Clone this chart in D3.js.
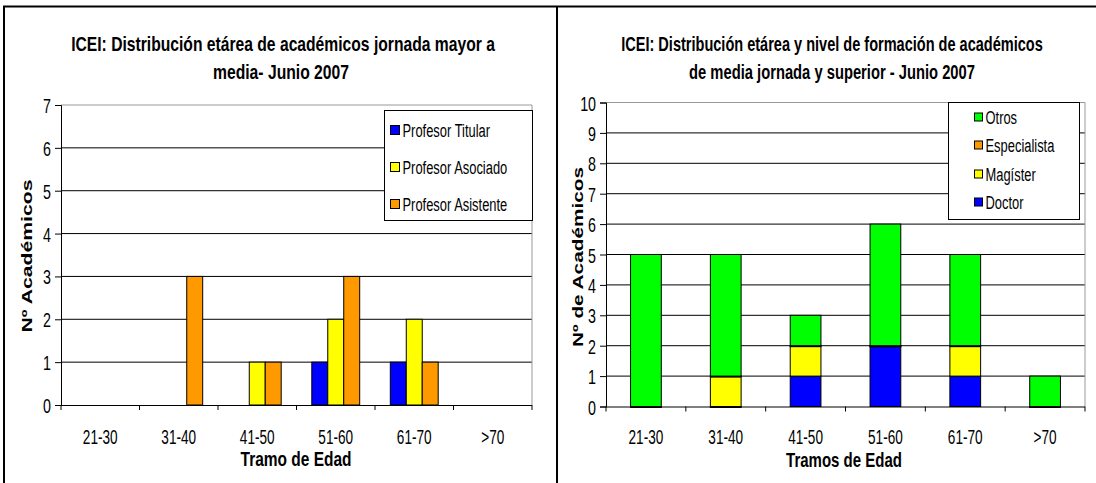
<!DOCTYPE html>
<meta charset="utf-8">
<style>
    body { margin: 0; background: #fff; }
    text { fill: #000; font-family: "Liberation Sans", Arial, sans-serif; }
    .title { font-weight: bold; font-size: 20px; }
    .axtitle { font-weight: bold; font-size: 15px; }
    .xtitle { font-weight: bold; font-size: 20px; }
    .legend text { font-size: 19px; }
    .grid line { stroke: #000; }
    .domain { stroke: #000; }
</style>
<body>
    <svg width="1096" height="483"></svg>
</body>
<script src="https://d3js.org/d3.v7.min.js"></script>
<script>

    // shared age brackets
    var tramos = ["21-30", "31-40", "41-50", "51-60", "61-70", ">70"];

    // left chart: by academic rank (grouped)
    var rangos = ["Profesor Titular", "Profesor Asociado", "Profesor Asistente"];
    var titular   = [0, 0, 0, 1, 1, 0];
    var asociado  = [0, 0, 1, 2, 2, 0];
    var asistente = [0, 3, 1, 3, 1, 0];
    var coloresRango = ["#0000ff", "#ffff00", "#ff9900"];
    var ticksIzq = [0, 1, 2, 3, 4, 5, 6, 7];

    // right chart: by training level (stacked, bottom to top)
    var niveles = ["Doctor", "Magíster", "Especialista", "Otros"];
    var doctor       = [0, 0, 1, 2, 1, 0];
    var magister     = [0, 1, 1, 0, 1, 0];
    var especialista = [0, 0, 0, 0, 0, 0];
    var otros        = [5, 4, 1, 4, 3, 1];
    var coloresNivel = ["#0000ff", "#ffff00", "#ff9900", "#00ff00"];
    var ticksDer = [0, 1, 2, 3, 4, 5, 6, 7, 8, 9, 10];

    var ESTRECHO = 0.68;   // the original glyphs are tall and very narrow

    var svg = d3.select("svg");

    // panel frames
    svg.append("path")
        .attr("d", "M4,483 V6.5 H1096 M557,6.5 V483")
        .attr("fill", "none")
        .attr("stroke", "#000")
        .attr("stroke-width", 2);

    function estrechar(sel) {
        sel.each(function () {
            var t = d3.select(this);
            var x = +t.attr("x") || 0;
            t.attr("x", x / ESTRECHO).attr("transform", "scale(" + ESTRECHO + ",1)");
        });
    }

    function ejes(g, x, y, ticks, x0, x1, yTop, yBot, padX) {
        // gridlines
        g.append("g").attr("class", "grid")
            .selectAll("line")
            .data(ticks.slice(1, -1))
            .enter().append("line")
            .attr("x1", x0).attr("x2", x1)
            .attr("y1", function (d) { return y(d); })
            .attr("y2", function (d) { return y(d); });

        // plot area outline (top and right in grey)
        g.append("path")
            .attr("d", "M" + x0 + "," + yTop + " H" + x1 + " V" + yBot)
            .attr("fill", "none")
            .attr("stroke", "#999");

        var yAxis = g.append("g")
            .attr("transform", "translate(" + x0 + ",0)")
            .call(d3.axisLeft(y).tickValues(ticks).tickSize(6).tickPadding(4).tickFormat(d3.format("d")))
            .attr("font-size", 21)
            .attr("font-family", "'Liberation Sans', Arial, sans-serif");
        yAxis.selectAll(".tick text").attr("dy", "0.36em");
        estrechar(yAxis.selectAll(".tick text"));

        var xAxis = g.append("g")
            .attr("transform", "translate(0," + yBot + ")")
            .call(d3.axisBottom(x).tickSize(0).tickPadding(padX))
            .attr("font-size", 20)
            .attr("font-family", "'Liberation Sans', Arial, sans-serif");
        xAxis.select(".domain").attr("d", "M" + x0 + ",0.5H" + x1);
        estrechar(xAxis.selectAll(".tick text"));

        // tick marks at category boundaries
        g.append("g").selectAll("line")
            .data(tramos.concat(["fin"]))
            .enter().append("line")
            .attr("x1", function (d, i) { return x0 + i * x.step(); })
            .attr("x2", function (d, i) { return x0 + i * x.step(); })
            .attr("y1", yBot).attr("y2", yBot + 5)
            .attr("stroke", "#000");
    }

    function leyenda(g, items, colores, bx, by, bw, bh, ys, sx, lado) {
        var lg = g.append("g").attr("class", "legend");
        lg.append("rect")
            .attr("x", bx).attr("y", by)
            .attr("width", bw).attr("height", bh)
            .attr("fill", "#fff").attr("stroke", "#000");
        var it = lg.selectAll(".it")
            .data(items)
            .enter().append("g")
            .attr("transform", function (d, i) { return "translate(" + sx + "," + ys[i] + ")"; });
        it.append("rect")
            .attr("x", 0).attr("y", -lado / 2)
            .attr("width", lado).attr("height", lado)
            .attr("fill", function (d, i) { return colores[i]; })
            .attr("stroke", "#000");
        var tx = it.append("text")
            .attr("x", lado + 3).attr("dy", "0.36em")
            .text(function (d) { return d; });
        estrechar(tx);
    }

    // centred text squeezed to a given width
    function texto(g, cls, x, y, largo, s, rot) {
        var t = g.append("text").attr("class", cls).attr("text-anchor", "middle").text(s);
        var k = largo / t.node().getComputedTextLength();
        t.attr("transform", "translate(" + x + "," + y + ")" + (rot ? " rotate(-90)" : "") + " scale(" + k + ",1)");
        return t;
    }

    // ---------- left chart ----------
    var gL = svg.append("g");
    var xL = d3.scaleBand().domain(tramos).range([61, 532]).padding(0);
    var yL = d3.scaleLinear().domain([0, 7]).range([405, 105]);
    ejes(gL, xL, yL, ticksIzq, 61, 532, 105, 405, 25);

    var serieL = [titular, asociado, asistente];
    var grupo = xL.bandwidth() * 0.61;
    var xSub = d3.scaleBand().domain(d3.range(rangos.length)).range([0, grupo]);

    rangos.forEach(function (r, s) {
        gL.append("g").selectAll("rect")
            .data(serieL[s].map(function (v, i) { return { cat: tramos[i], v: v }; })
                .filter(function (d) { return d.v > 0; }))
            .enter().append("rect")
            .attr("x", function (d) { return xL(d.cat) + (xL.bandwidth() - grupo) / 2 + xSub(s); })
            .attr("width", xSub.bandwidth())
            .attr("y", function (d) { return yL(d.v); })
            .attr("height", function (d) { return yL(0) - yL(d.v); })
            .attr("fill", coloresRango[s])
            .attr("stroke", "#000")
            .attr("stroke-width", 1);
    });

    leyenda(gL, rangos, coloresRango, 384.5, 110.5, 148, 110, [130, 167, 204], 390.5, 9);

    texto(gL, "title", 283, 51, 424, "ICEI: Distribución etárea de académicos jornada mayor a");
    texto(gL, "title", 281, 79, 136, "media- Junio 2007");
    texto(gL, "xtitle", 296, 466, 111, "Tramo de Edad");
    texto(gL, "axtitle", 32, 256, 153, "Nº Académicos", true);

    // ---------- right chart ----------
    var gR = svg.append("g");
    var xR = d3.scaleBand().domain(tramos).range([606, 1085]).padding(0);
    var yR = d3.scaleLinear().domain([0, 10]).range([406.5, 102.5]);
    ejes(gR, xR, yR, ticksDer, 606, 1085, 102.5, 406.5, 23);

    var serieR = [doctor, magister, especialista, otros];
    var tabla = tramos.map(function (t, i) {
        var fila = { tramo: t };
        niveles.forEach(function (n, s) { fila[n] = serieR[s][i]; });
        return fila;
    });
    var apilado = d3.stack().keys(niveles)(tabla);
    var anchoBarra = xR.bandwidth() * 0.385;

    gR.selectAll(".capa")
        .data(apilado)
        .enter().append("g")
        .attr("fill", function (d, i) { return coloresNivel[i]; })
        .selectAll("rect")
        .data(function (d) { return d; })
        .enter().append("rect")
        .attr("x", function (d) { return xR(d.data.tramo) + (xR.bandwidth() - anchoBarra) / 2; })
        .attr("width", anchoBarra)
        .attr("y", function (d) { return yR(d[1]); })
        .attr("height", function (d) { return Math.max(yR(d[0]) - yR(d[1]), 1); })
        .attr("stroke", "#000")
        .attr("stroke-width", 1);

    leyenda(gR, niveles.slice().reverse(), coloresNivel.slice().reverse(), 948.5, 102.5, 131, 117, [117, 145, 174, 202], 974.5, 8);

    texto(gR, "title", 832, 51, 422, "ICEI: Distribución etárea y nivel de formación de académicos");
    texto(gR, "title", 832, 79, 286, "de media jornada y superior - Junio 2007");
    texto(gR, "xtitle", 844, 467, 116, "Tramos de Edad");
    texto(gR, "axtitle", 583, 257, 180, "Nº de Académicos", true);

</script>
